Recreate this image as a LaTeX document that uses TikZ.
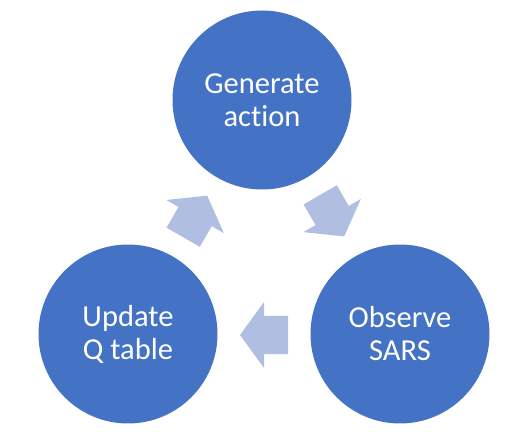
\documentclass[tikz,border=0pt]{standalone}
\usepackage{fontspec}
\setmainfont{Carlito}[Ligatures=NoCommon]
\usepackage{xcolor}
\usetikzlibrary{shapes.arrows}
\definecolor{stepblue}{HTML}{4472C4}
\definecolor{arrowblue}{HTML}{B0BFE1}

\begin{document}
\begin{tikzpicture}[
    x=1pt, y=1pt,
    stage/.style={circle, fill=stepblue, minimum size=179pt, inner sep=0pt,
        text=white, align=center, font=\fontsize{30.5}{33}\selectfont},
    flow/.style={single arrow, fill=arrowblue, minimum height=48pt,
        inner xsep=0pt, inner ysep=19pt, single arrow head extend=14pt,
        single arrow tip angle=108}
]
    \useasboundingbox (0,0) rectangle (509,444);

    % Stages
    \node[stage] (gen) at (262, 344) {Generate\\action};
    \node[stage] (obs) at (400, 110) {Observe\\SARS};
    \node[stage] (upd) at (128, 110) {Update\\Q table};

    % Cycle arrows
    \node[flow, rotate=-60] (a1) at (328.7, 234.4) {};
    \node[flow, rotate=180] (a2) at (271, 109) {};
    \node[flow, rotate=60] (a3) at (191.7, 221.5) {};

\end{tikzpicture}
\end{document}
